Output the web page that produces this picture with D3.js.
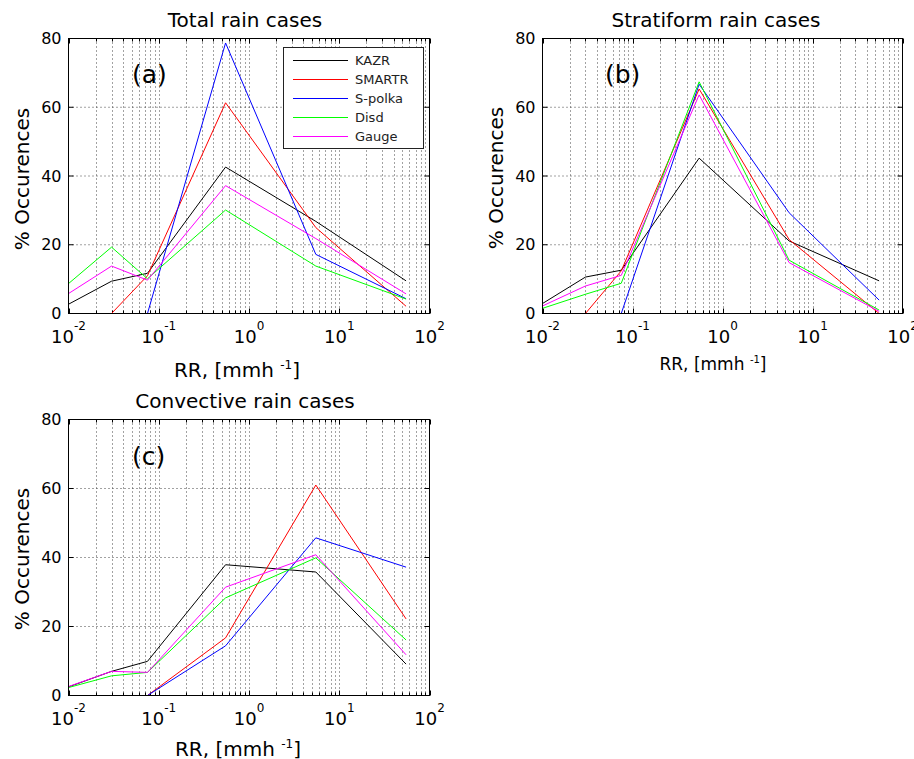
<!DOCTYPE html>
<html><head><meta charset="utf-8">
<script src="https://cdn.jsdelivr.net/npm/d3@7"></script>
<style>body{margin:0;background:#fff} text{font-family:"DejaVu Sans",sans-serif;fill:#000}</style>
</head><body><svg id="chart" width="914" height="759"></svg>
<script>
// ---- data ----
const rainRate = [0.01, 0.03, 0.075, 0.55, 5.5, 55];
const seriesNames = ["KAZR", "SMARTR", "S-polka", "Disd", "Gauge"];
const seriesColors = ["#000000", "#ff0000", "#0000ff", "#00ff00", "#ff00ff"];

const totalKAZR   = [2.7, 9.4, 11.7, 42.6, 26.8, 9.5];
const totalSMARTR = [null, 0, 11.0, 61.3, 25.0, 2.1];
const totalSpolka = [null, null, 0, 78.7, 17.2, 4.3];
const totalDisd   = [8.7, 19.3, 10.1, 30.1, 13.8, 4.2];
const totalGauge  = [5.8, 13.8, 9.7, 37.2, 21.8, 5.7];

const stratKAZR   = [2.9, 10.6, 12.6, 45.2, 21.1, 9.5];
const stratSMARTR = [null, 0, 12.4, 65.3, 21.5, 0];
const stratSpolka = [null, null, 0, 66.7, 29.3, 3.9];
const stratDisd   = [1.5, 5.6, 8.8, 67.4, 15.5, 1.0];
const stratGauge  = [2.2, 8.0, 11.1, 63.6, 14.8, 0.6];

const convKAZR    = [2.5, 7.0, 9.9, 37.9, 35.8, 9.1];
const convSMARTR  = [null, null, 0, 16.7, 61.0, 22.2];
const convSpolka  = [null, null, 0, 14.4, 45.7, 37.2];
const convDisd    = [2.3, 5.7, 6.7, 28.3, 39.9, 16.1];
const convGauge   = [2.6, 7.0, 6.7, 31.4, 40.8, 11.8];

const yTicks = [0, 20, 40, 60, 80];
const xTickExponents = [-2, -1, 0, 1, 2];
const yLabel = "% Occurences";
const xLabelMain = "RR, [mmh";
const xLabelSup = "-1";

// ---- layout ----
const panels = [
  {title: "Total rain cases", tag: "(a)", series: [totalKAZR, totalSMARTR, totalSpolka, totalDisd, totalGauge],
   left: 68.5, right: 429.5, top: 38.5, bottom: 313.5, titleX: 245, titleY: 27,
   ylx: 29.3, yly: 179, xlx: 237, xly: 377, xlSize: 20, xlSup: 12, xlDy: -8, legend: true, tagX: 132, tagY: 83},
  {title: "Stratiform rain cases", tag: "(b)", series: [stratKAZR, stratSMARTR, stratSpolka, stratDisd, stratGauge],
   left: 542.5, right: 902.5, top: 38.5, bottom: 313.5, titleX: 716, titleY: 27,
   ylx: 502.7, yly: 178, xlx: 713, xly: 369.5, xlSize: 17, xlSup: 10, xlDy: -7, legend: false, tagX: 605, tagY: 83},
  {title: "Convective rain cases", tag: "(c)", series: [convKAZR, convSMARTR, convSpolka, convDisd, convGauge],
   left: 68.5, right: 429.5, top: 419.5, bottom: 695.5, titleX: 245, titleY: 408,
   ylx: 29.3, yly: 559, xlx: 238, xly: 756, xlSize: 20, xlSup: 12, xlDy: -8, legend: false, tagX: 132, tagY: 465}
];

const svg = d3.select("#chart");

panels.forEach((p, pi) => {
  const x = d3.scaleLog().domain([1e-2, 1e2]).range([p.left, p.right]);
  const y = d3.scaleLinear().domain([0, 80]).range([p.bottom, p.top]);
  const g = svg.append("g");

  const minors = [];
  for (let e = -2; e < 2; e++) for (let k = 2; k <= 9; k++) minors.push(k * Math.pow(10, e));
  const majors = xTickExponents.map(e => Math.pow(10, e));

  // grid
  const grid = g.append("g").attr("stroke", "#444").attr("stroke-width", 1).attr("stroke-dasharray", "1,3");
  minors.concat(majors.slice(1, -1)).forEach(v => {
    const px = Math.round(x(v)) + 0.5;
    grid.append("line").attr("x1", px).attr("x2", px).attr("y1", p.top).attr("y2", p.bottom);
  });
  yTicks.slice(1, -1).forEach(v => {
    grid.append("line").attr("x1", p.left).attr("x2", p.right).attr("y1", y(v)).attr("y2", y(v));
  });

  // tick marks
  const tk = g.append("g").attr("stroke", "#000").attr("stroke-width", 1);
  majors.forEach(v => {
    const px = Math.round(x(v)) + 0.5;
    tk.append("line").attr("x1", px).attr("x2", px).attr("y1", p.bottom).attr("y2", p.bottom - 5);
    tk.append("line").attr("x1", px).attr("x2", px).attr("y1", p.top).attr("y2", p.top + 5);
  });
  minors.forEach(v => {
    const px = Math.round(x(v)) + 0.5;
    tk.append("line").attr("x1", px).attr("x2", px).attr("y1", p.bottom).attr("y2", p.bottom - 3);
    tk.append("line").attr("x1", px).attr("x2", px).attr("y1", p.top).attr("y2", p.top + 3);
  });
  yTicks.forEach(v => {
    tk.append("line").attr("x1", p.left).attr("x2", p.left + 5).attr("y1", y(v)).attr("y2", y(v));
    tk.append("line").attr("x1", p.right).attr("x2", p.right - 5).attr("y1", y(v)).attr("y2", y(v));
  });

  // series lines
  const clipId = "clip" + pi;
  svg.append("clipPath").attr("id", clipId).append("rect")
    .attr("x", p.left).attr("y", p.top).attr("width", p.right - p.left).attr("height", p.bottom - p.top);
  const line = d3.line().defined(d => d[1] !== null).x(d => x(d[0])).y(d => y(d[1]));
  p.series.forEach((vals, si) => {
    g.append("path").datum(rainRate.map((r, i) => [r, vals[i]]))
      .attr("d", line).attr("fill", "none").attr("stroke", seriesColors[si]).attr("stroke-width", 1)
      .attr("clip-path", `url(#${clipId})`);
  });

  // frame
  g.append("rect").attr("x", p.left).attr("y", p.top).attr("width", p.right - p.left).attr("height", p.bottom - p.top)
    .attr("fill", "none").attr("stroke", "#000").attr("stroke-width", 1);

  // y tick labels
  yTicks.forEach(v => {
    g.append("text").attr("x", p.left - 7).attr("y", y(v) + 5.5).attr("text-anchor", "end")
      .attr("font-size", 16).text(v);
  });
  // x tick labels
  xTickExponents.forEach(e => {
    const t = g.append("text").attr("x", x(Math.pow(10, e))).attr("y", p.bottom + 29.5)
      .attr("text-anchor", "middle").attr("font-size", 18);
    t.append("tspan").text("10");
    t.append("tspan").attr("font-size", 12).attr("dy", -13).text(String(e));
  });

  // title
  g.append("text").attr("x", p.titleX).attr("y", p.titleY).attr("text-anchor", "middle")
    .attr("font-size", 20).text(p.title);
  // y label
  g.append("text").attr("transform", `translate(${p.ylx},${p.yly}) rotate(-90)`).attr("text-anchor", "middle")
    .attr("font-size", 20).text(yLabel);
  // x label
  const xl = g.append("text").attr("x", p.xlx).attr("y", p.xly).attr("text-anchor", "middle").attr("font-size", p.xlSize);
  xl.append("tspan").text(xLabelMain + " ");
  xl.append("tspan").attr("font-size", p.xlSup).attr("dy", p.xlDy).text(xLabelSup);
  xl.append("tspan").attr("dy", -p.xlDy).text("]");

  // panel tag
  g.append("text").attr("x", p.tagX).attr("y", p.tagY).attr("font-size", 25).text(p.tag);

  // legend
  if (p.legend) {
    const lg = g.append("g");
    lg.append("rect").attr("x", 283.5).attr("y", 47.5).attr("width", 140).attr("height", 101)
      .attr("fill", "#fff").attr("stroke", "#222").attr("stroke-width", 1);
    seriesNames.forEach((n, i) => {
      const ly = 60.5 + i * 19;
      lg.append("line").attr("x1", 293).attr("x2", 348).attr("y1", ly).attr("y2", ly)
        .attr("stroke", seriesColors[i]).attr("stroke-width", 1.2);
      lg.append("text").attr("x", 355).attr("y", ly + 4.5).attr("font-size", 13).style("fill", "#222").text(n);
    });
  }
});
</script></body></html>
